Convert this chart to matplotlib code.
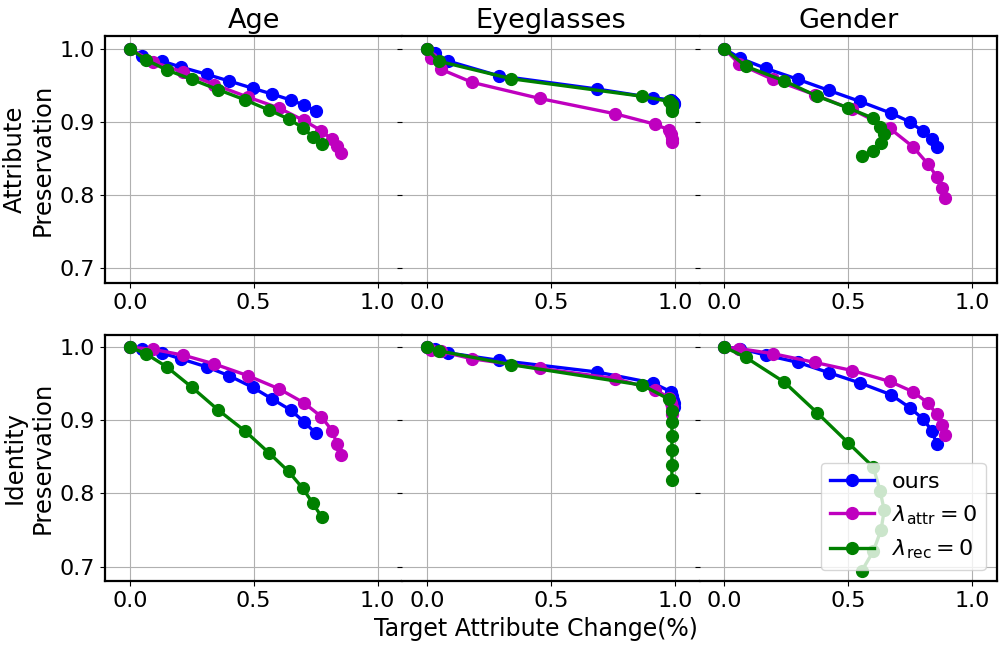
import matplotlib
matplotlib.use("Agg")
import matplotlib.pyplot as plt

attributes = ["Age", "Eyeglasses", "Gender"]
row_labels = ["Attribute\nPreservation", "Identity\nPreservation"]
series_labels = ["ours", r"$\lambda_{\rm attr}=0$", r"$\lambda_{\rm rec}=0$"]
series_colors = ["b", "m", "g"]

# Age
age_ours_x = [0.0, 0.048, 0.13, 0.206, 0.31, 0.40, 0.496, 0.575, 0.649, 0.703, 0.751]
age_ours_attr = [1.0, 0.990, 0.983, 0.975, 0.965, 0.956, 0.946, 0.938, 0.930, 0.923, 0.915]
age_ours_id = [1.0, 0.998, 0.992, 0.984, 0.973, 0.961, 0.945, 0.929, 0.914, 0.898, 0.882]
age_noattr_x = [0.0, 0.093, 0.216, 0.341, 0.476, 0.602, 0.702, 0.773, 0.816, 0.836, 0.852]
age_noattr_attr = [1.0, 0.982, 0.968, 0.951, 0.934, 0.919, 0.902, 0.888, 0.876, 0.867, 0.858]
age_noattr_id = [1.0, 0.997, 0.989, 0.977, 0.961, 0.943, 0.924, 0.905, 0.886, 0.868, 0.852]
age_norec_x = [0.0, 0.065, 0.149, 0.251, 0.357, 0.466, 0.563, 0.641, 0.698, 0.738, 0.774]
age_norec_attr = [1.0, 0.985, 0.971, 0.958, 0.944, 0.930, 0.916, 0.904, 0.892, 0.880, 0.870]
age_norec_id = [1.0, 0.991, 0.973, 0.945, 0.914, 0.885, 0.855, 0.830, 0.807, 0.787, 0.768]

# Eyeglasses
eye_ours_x = [0.0, 0.030, 0.086, 0.289, 0.685, 0.911, 0.984, 0.990, 0.993, 0.995, 0.996]
eye_ours_attr = [1.0, 0.994, 0.983, 0.963, 0.945, 0.933, 0.930, 0.928, 0.927, 0.926, 0.925]
eye_ours_id = [1.0, 0.998, 0.992, 0.982, 0.966, 0.951, 0.939, 0.933, 0.928, 0.923, 0.918]
eye_noattr_x = [0.0, 0.015, 0.055, 0.182, 0.455, 0.760, 0.918, 0.977, 0.985, 0.988, 0.990]
eye_noattr_attr = [1.0, 0.987, 0.972, 0.954, 0.932, 0.911, 0.897, 0.889, 0.883, 0.876, 0.873]
eye_noattr_id = [1.0, 0.996, 0.994, 0.984, 0.971, 0.957, 0.942, 0.931, 0.924, 0.918, 0.909]
eye_norec_x = [0.0, 0.046, 0.339, 0.868, 0.975, 0.988, 0.988, 0.988, 0.988, 0.988, 0.988]
eye_norec_attr = [1.0, 0.983, 0.959, 0.935, 0.928, 0.925, 0.922, 0.920, 0.918, 0.916, 0.915]
eye_norec_id = [1.0, 0.995, 0.976, 0.948, 0.929, 0.912, 0.898, 0.878, 0.859, 0.839, 0.819]

# Gender
gen_ours_x = [0.0, 0.063, 0.168, 0.298, 0.422, 0.547, 0.672, 0.749, 0.801, 0.837, 0.856]
gen_ours_attr = [1.0, 0.987, 0.973, 0.958, 0.943, 0.928, 0.912, 0.900, 0.887, 0.876, 0.866]
gen_ours_id = [1.0, 0.998, 0.989, 0.979, 0.965, 0.951, 0.935, 0.917, 0.902, 0.886, 0.868]
gen_noattr_x = [0.0, 0.060, 0.196, 0.366, 0.515, 0.668, 0.761, 0.820, 0.858, 0.880, 0.890]
gen_noattr_attr = [1.0, 0.979, 0.958, 0.937, 0.917, 0.891, 0.866, 0.843, 0.825, 0.809, 0.796]
gen_noattr_id = [1.0, 0.998, 0.991, 0.979, 0.968, 0.953, 0.939, 0.924, 0.908, 0.894, 0.880]
gen_norec_x = [0.0, 0.086, 0.242, 0.375, 0.500, 0.601, 0.628, 0.645, 0.632, 0.601, 0.554]
gen_norec_attr = [1.0, 0.976, 0.956, 0.935, 0.919, 0.905, 0.893, 0.883, 0.871, 0.860, 0.853]
gen_norec_id = [1.0, 0.986, 0.952, 0.910, 0.869, 0.836, 0.804, 0.777, 0.750, 0.721, 0.694]

panels = {
    "Age": [(age_ours_x, age_ours_attr, age_ours_id),
            (age_noattr_x, age_noattr_attr, age_noattr_id),
            (age_norec_x, age_norec_attr, age_norec_id)],
    "Eyeglasses": [(eye_ours_x, eye_ours_attr, eye_ours_id),
                   (eye_noattr_x, eye_noattr_attr, eye_noattr_id),
                   (eye_norec_x, eye_norec_attr, eye_norec_id)],
    "Gender": [(gen_ours_x, gen_ours_attr, gen_ours_id),
               (gen_noattr_x, gen_noattr_attr, gen_noattr_id),
               (gen_norec_x, gen_norec_attr, gen_norec_id)],
}

fig, axes = plt.subplots(2, 3, figsize=(10.05, 6.48), sharey=True)
fig.subplots_adjust(left=0.1045, right=0.992, top=0.944, bottom=0.103,
                    wspace=0.0, hspace=0.21)

for col, attr in enumerate(attributes):
    for row in range(2):
        ax = axes[row, col]
        for (x, y_attr, y_id), color, label in zip(panels[attr], series_colors, series_labels):
            y = y_attr if row == 0 else y_id
            ax.plot(x, y, "-o", color=color, linewidth=2.4, markersize=8.5, label=label)
        ax.set_xlim(-0.1, 1.1)
        ax.set_ylim(0.68, 1.017)
        ax.set_xticks([0.0, 0.5, 1.0])
        ax.set_yticks([0.7, 0.8, 0.9, 1.0])
        ax.grid(True, color="#b0b0b0", linewidth=0.8)
        ax.tick_params(labelsize=16)
        for sp in ax.spines.values():
            sp.set_linewidth(1.6)
        # panels in a row touch each other: no inner vertical spines
        if col > 0:
            ax.spines["left"].set_visible(False)
        if col < 2:
            ax.spines["right"].set_visible(False)
        if row == 0:
            ax.set_title(attr, fontsize=19.5)
        if col == 0:
            ax.set_ylabel(row_labels[row], fontsize=17.5)

axes[1, 1].set_xlabel("Target Attribute Change(%)", fontsize=17)
axes[1, 1].xaxis.label.set_x(0.45)
axes[1, 2].legend(loc="lower right", fontsize=16, handlelength=2.0)

plt.savefig("out.png", dpi=100)
